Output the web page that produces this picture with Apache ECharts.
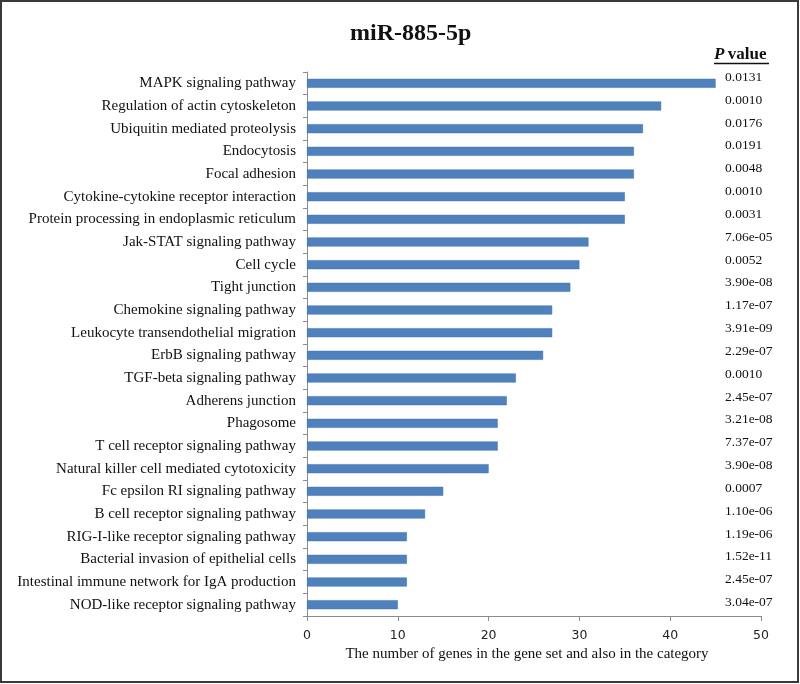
<!DOCTYPE html>
<html>
<head>
<meta charset="utf-8">
<script src="https://cdn.jsdelivr.net/npm/echarts@6/dist/echarts.min.js"></script>
<style>html,body{margin:0;padding:0;background:#fff}#c{width:800px;height:684px}</style>
</head>
<body>
<div id="c"></div>
<script>
var categories = [
  "MAPK signaling pathway",
  "Regulation of actin cytoskeleton",
  "Ubiquitin mediated proteolysis",
  "Endocytosis",
  "Focal adhesion",
  "Cytokine-cytokine receptor interaction",
  "Protein processing in endoplasmic reticulum",
  "Jak-STAT signaling pathway",
  "Cell cycle",
  "Tight junction",
  "Chemokine signaling pathway",
  "Leukocyte transendothelial migration",
  "ErbB signaling pathway",
  "TGF-beta signaling pathway",
  "Adherens junction",
  "Phagosome",
  "T cell receptor signaling pathway",
  "Natural killer cell mediated cytotoxicity",
  "Fc epsilon RI signaling pathway",
  "B cell receptor signaling pathway",
  "RIG-I-like receptor signaling pathway",
  "Bacterial invasion of epithelial cells",
  "Intestinal immune network for IgA production",
  "NOD-like receptor signaling pathway"
];
var geneCounts = [45, 39, 37, 36, 36, 35, 35, 31, 30, 29, 27, 27, 26, 23, 22, 21, 21, 20, 15, 13, 11, 11, 11, 10];
var pValues = ["0.0131", "0.0010", "0.0176", "0.0191", "0.0048", "0.0010", "0.0031", "7.06e-05", "0.0052", "3.90e-08",
  "1.17e-07", "3.91e-09", "2.29e-07", "0.0010", "2.45e-07", "3.21e-08", "7.37e-07", "3.90e-08", "0.0007", "1.10e-06",
  "1.19e-06", "1.52e-11", "2.45e-07", "3.04e-07"];
var xTicks = [0, 10, 20, 30, 40, 50];
var titleText = "miR-885-5p";
var xAxisName = "The number of genes in the gene set and also in the category";

var chart = echarts.init(document.getElementById('c'), null, {renderer: 'canvas'});
var serif = "'Liberation Serif', 'Times New Roman', serif";
chart.setOption({
  animation: false,
  backgroundColor: '#fff',
  title: {
    text: titleText, left: 345, top: 17,
    textStyle: {fontFamily: serif, fontWeight: 'bold', fontSize: 24, color: '#111'}
  },
  grid: [
    {left: 307, right: 39, top: 72, bottom: 68, containLabel: false},
    {left: 307, right: 39, top: 66, bottom: 70, containLabel: false}
  ],
  xAxis: [{
    type: 'value', gridIndex: 0, min: xTicks[0], max: xTicks[xTicks.length - 1], interval: xTicks[1] - xTicks[0],
    splitLine: {show: false},
    axisLine: {show: true, lineStyle: {color: '#8c8c8c', width: 1}},
    axisTick: {show: true, length: 5, lineStyle: {color: '#8c8c8c'}},
    axisLabel: {fontFamily: "'DejaVu Sans', Verdana, sans-serif", fontSize: 12.5, color: '#222', margin: 13},
    name: xAxisName, nameLocation: 'middle', nameGap: 31,
    nameTextStyle: {fontFamily: serif, fontSize: 15, color: '#111', padding: [0, 14, 0, 0]}
  }, {
    type: 'value', gridIndex: 1, min: 0, max: 50, show: false
  }],
  yAxis: [{
    type: 'category', gridIndex: 0, data: categories, inverse: true,
    axisLine: {show: true, lineStyle: {color: '#8c8c8c', width: 1}},
    axisTick: {show: true, length: 4, lineStyle: {color: '#8c8c8c'}},
    axisLabel: {fontFamily: serif, fontSize: 15, color: '#111', margin: 11, interval: 0}
  }, {
    type: 'category', gridIndex: 1, data: pValues, inverse: true, position: 'right',
    axisLine: {show: false}, axisTick: {show: false},
    axisLabel: {fontFamily: serif, fontSize: 13.5, color: '#111', margin: -36, align: 'left', interval: 0}
  }],
  series: [{
    type: 'bar', data: geneCounts, xAxisIndex: 0, yAxisIndex: 0, barWidth: 9,
    itemStyle: {color: '#4f81bd', borderColor: '#3f6fa8', borderWidth: 0.5}
  }],
  graphic: [
    {type: 'rect', shape: {x: 1, y: 1, width: 797, height: 681}, style: {fill: null, stroke: '#3a3a3a', lineWidth: 2}, silent: true},
    {type: 'text', left: 714, top: 46, style: {
      text: '{i|P} {b|value}',
      rich: {
        i: {fontFamily: serif, fontStyle: 'italic', fontWeight: 'bold', fontSize: 17, fill: '#111'},
        b: {fontFamily: serif, fontWeight: 'bold', fontSize: 17, fill: '#111'}
      }
    }},
    {type: 'line', shape: {x1: 714, y1: 63.5, x2: 769, y2: 63.5}, style: {stroke: '#111', lineWidth: 1.5}}
  ]
});
</script>
</body>
</html>
